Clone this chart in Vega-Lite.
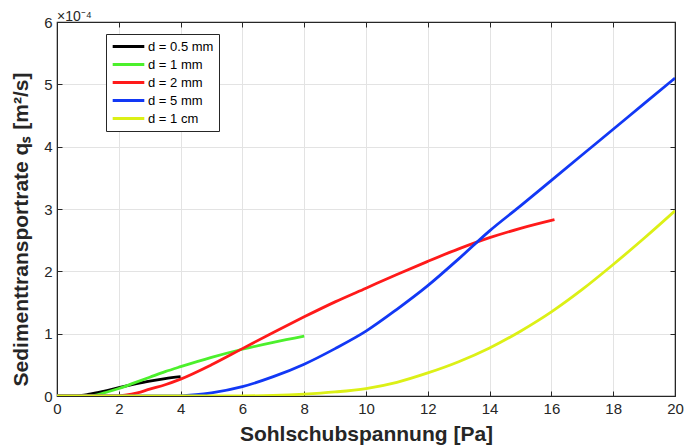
{
  "$schema": "https://vega.github.io/schema/vega-lite/v6.json",
  "width": 618,
  "height": 374,
  "autosize": {"type": "none"},
  "padding": {"left": 57, "top": 22, "right": 10, "bottom": 52},
  "background": "white",
  "title": {"text": "×10⁻⁴", "anchor": "start", "frame": "group", "fontSize": 14, "fontWeight": "normal", "font": "Liberation Sans", "color": "#262626", "offset": 3, "dy": 12},
  "config": {
    "font": "Liberation Sans",
    "view": {"stroke": "#262626", "strokeWidth": 1.2},
    "axis": {"grid": true, "gridColor": "#e3e3e3", "gridWidth": 1, "domainColor": "#262626", "tickColor": "#262626", "labelColor": "#262626", "labelFontSize": 15, "titleFontSize": 21, "titleFontWeight": "bold", "titleColor": "#262626", "tickSize": -5, "labelPadding": 10}
  },
  "data": {"values": [
    {"s": "d = 0.5 mm", "x": 0, "y": 0}, {"s": "d = 0.5 mm", "x": 0.5, "y": 0}, {"s": "d = 0.5 mm", "x": 0.8, "y": 0.01}, {"s": "d = 0.5 mm", "x": 1, "y": 0.025}, {"s": "d = 0.5 mm", "x": 1.5, "y": 0.075}, {"s": "d = 0.5 mm", "x": 2, "y": 0.135}, {"s": "d = 0.5 mm", "x": 2.5, "y": 0.19}, {"s": "d = 0.5 mm", "x": 3, "y": 0.24}, {"s": "d = 0.5 mm", "x": 3.5, "y": 0.28}, {"s": "d = 0.5 mm", "x": 4, "y": 0.31},
    {"s": "d = 1 mm", "x": 0, "y": 0}, {"s": "d = 1 mm", "x": 1, "y": 0}, {"s": "d = 1 mm", "x": 1.3, "y": 0.02}, {"s": "d = 1 mm", "x": 1.6, "y": 0.06}, {"s": "d = 1 mm", "x": 2, "y": 0.12}, {"s": "d = 1 mm", "x": 2.5, "y": 0.21}, {"s": "d = 1 mm", "x": 3, "y": 0.3}, {"s": "d = 1 mm", "x": 3.5, "y": 0.39}, {"s": "d = 1 mm", "x": 4, "y": 0.47}, {"s": "d = 1 mm", "x": 5, "y": 0.62}, {"s": "d = 1 mm", "x": 6, "y": 0.75}, {"s": "d = 1 mm", "x": 7, "y": 0.86}, {"s": "d = 1 mm", "x": 8, "y": 0.96},
    {"s": "d = 2 mm", "x": 0, "y": 0}, {"s": "d = 2 mm", "x": 1.8, "y": 0}, {"s": "d = 2 mm", "x": 2.2, "y": 0.015}, {"s": "d = 2 mm", "x": 2.6, "y": 0.05}, {"s": "d = 2 mm", "x": 3, "y": 0.11}, {"s": "d = 2 mm", "x": 3.5, "y": 0.18}, {"s": "d = 2 mm", "x": 4, "y": 0.27}, {"s": "d = 2 mm", "x": 5, "y": 0.5}, {"s": "d = 2 mm", "x": 6, "y": 0.76}, {"s": "d = 2 mm", "x": 7, "y": 1.02}, {"s": "d = 2 mm", "x": 8, "y": 1.27}, {"s": "d = 2 mm", "x": 9, "y": 1.51}, {"s": "d = 2 mm", "x": 10, "y": 1.73}, {"s": "d = 2 mm", "x": 11, "y": 1.95}, {"s": "d = 2 mm", "x": 12, "y": 2.16}, {"s": "d = 2 mm", "x": 13, "y": 2.36}, {"s": "d = 2 mm", "x": 14, "y": 2.54}, {"s": "d = 2 mm", "x": 15, "y": 2.69}, {"s": "d = 2 mm", "x": 16.1, "y": 2.83},
    {"s": "d = 5 mm", "x": 0, "y": 0}, {"s": "d = 5 mm", "x": 3.8, "y": 0}, {"s": "d = 5 mm", "x": 4.5, "y": 0.02}, {"s": "d = 5 mm", "x": 5, "y": 0.05}, {"s": "d = 5 mm", "x": 6, "y": 0.15}, {"s": "d = 5 mm", "x": 7, "y": 0.31}, {"s": "d = 5 mm", "x": 8, "y": 0.51}, {"s": "d = 5 mm", "x": 9, "y": 0.76}, {"s": "d = 5 mm", "x": 10, "y": 1.04}, {"s": "d = 5 mm", "x": 11, "y": 1.39}, {"s": "d = 5 mm", "x": 12, "y": 1.77}, {"s": "d = 5 mm", "x": 13, "y": 2.2}, {"s": "d = 5 mm", "x": 14, "y": 2.65}, {"s": "d = 5 mm", "x": 15, "y": 3.05}, {"s": "d = 5 mm", "x": 16, "y": 3.46}, {"s": "d = 5 mm", "x": 17, "y": 3.87}, {"s": "d = 5 mm", "x": 18, "y": 4.28}, {"s": "d = 5 mm", "x": 19, "y": 4.69}, {"s": "d = 5 mm", "x": 20, "y": 5.1},
    {"s": "d = 1 cm", "x": 0, "y": 0}, {"s": "d = 1 cm", "x": 5.5, "y": 0}, {"s": "d = 1 cm", "x": 7, "y": 0.01}, {"s": "d = 1 cm", "x": 8, "y": 0.03}, {"s": "d = 1 cm", "x": 9, "y": 0.065}, {"s": "d = 1 cm", "x": 10, "y": 0.12}, {"s": "d = 1 cm", "x": 11, "y": 0.22}, {"s": "d = 1 cm", "x": 12, "y": 0.37}, {"s": "d = 1 cm", "x": 13, "y": 0.55}, {"s": "d = 1 cm", "x": 14, "y": 0.77}, {"s": "d = 1 cm", "x": 15, "y": 1.04}, {"s": "d = 1 cm", "x": 16, "y": 1.35}, {"s": "d = 1 cm", "x": 17, "y": 1.71}, {"s": "d = 1 cm", "x": 18, "y": 2.11}, {"s": "d = 1 cm", "x": 19, "y": 2.53}, {"s": "d = 1 cm", "x": 20, "y": 2.97}
  ]},
  "layer": [
    {
      "mark": {"type": "line", "strokeWidth": 2.8, "clip": true, "interpolate": "monotone"},
      "encoding": {
        "x": {"field": "x", "type": "quantitative", "scale": {"domain": [0, 20], "nice": false}, "axis": {"values": [0,2,4,6,8,10,12,14,16,18,20], "title": "Sohlschubspannung [Pa]", "titlePadding": 7, "labelFlush": false}},
        "y": {"field": "y", "type": "quantitative", "scale": {"domain": [0, 6], "nice": false}, "axis": {"values": [0,1,2,3,4,5,6], "title": "Sedimenttransportrate qₛ [m²/s]", "titlePadding": 12, "titleY": 207}},
        "color": {"field": "s", "type": "nominal",
          "scale": {"domain": ["d = 0.5 mm", "d = 1 mm", "d = 2 mm", "d = 5 mm", "d = 1 cm"], "range": ["#000000", "#4cf02c", "#ff1a1a", "#1238f5", "#dcf016"]},
          "legend": {"title": null, "orient": "none", "legendX": 49, "legendY": 12, "symbolType": "stroke", "symbolSize": 1000, "symbolStrokeWidth": 3, "clipHeight": 15, "labelFontSize": 13, "labelColor": "#000000", "fillColor": "white", "strokeColor": "#262626", "padding": 5, "rowPadding": 3, "labelOffset": 2}},
        "detail": {"field": "s"}
      }
    },
    {
      "mark": {"type": "line", "opacity": 0},
      "encoding": {
        "x": {"field": "x", "type": "quantitative", "axis": {"orient": "top", "values": [0,2,4,6,8,10,12,14,16,18,20], "labels": false, "title": null, "grid": false}},
        "y": {"field": "y", "type": "quantitative", "axis": {"orient": "right", "values": [0,1,2,3,4,5,6], "labels": false, "title": null, "grid": false}},
        "detail": {"field": "s"}
      }
    }
  ],
  "resolve": {"axis": {"x": "independent", "y": "independent"}}
}
